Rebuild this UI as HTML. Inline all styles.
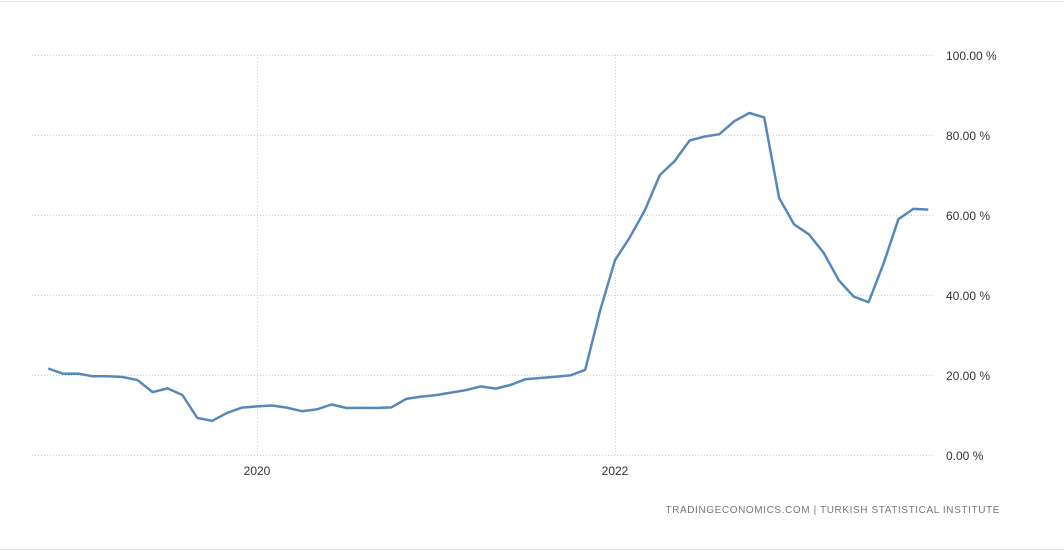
<!DOCTYPE html>
<html><head><meta charset="utf-8"><style>
html,body{margin:0;padding:0;background:#fff;}
body{width:1064px;height:552px;overflow:hidden;font-family:"Liberation Sans",sans-serif;}
</style></head><body>
<svg id="c" width="1064" height="552" xmlns="http://www.w3.org/2000/svg">
<line x1="0" y1="1.5" x2="1064" y2="1.5" stroke="#e6e6e6"/>
<line x1="0" y1="549.5" x2="1064" y2="549.5" stroke="#e6e6e6"/>
<g stroke="#d0d0d0" stroke-dasharray="1,2" stroke-width="1">
<line x1="32" y1="55.5" x2="935" y2="55.5"/>
<line x1="32" y1="135.5" x2="935" y2="135.5"/>
<line x1="32" y1="215.5" x2="935" y2="215.5"/>
<line x1="32" y1="295.5" x2="935" y2="295.5"/>
<line x1="32" y1="375.5" x2="935" y2="375.5"/>
<line x1="32" y1="455.5" x2="935" y2="455.5"/>
<line x1="257.5" y1="55" x2="257.5" y2="455"/>
<line x1="615.5" y1="55" x2="615.5" y2="455"/>
</g>
<g font-size="12" fill="#333">
<text x="946" y="60">100.00 %</text>
<text x="946" y="140">80.00 %</text>
<text x="946" y="220">60.00 %</text>
<text x="946" y="300">40.00 %</text>
<text x="946" y="380">20.00 %</text>
<text x="946" y="460">0.00 %</text>
<text x="257" y="475" text-anchor="middle">2020</text>
<text x="615" y="475" text-anchor="middle">2022</text>
</g>
<text x="1000" y="513" text-anchor="end" font-size="10" fill="#777" letter-spacing="0.6">TRADINGECONOMICS.COM  |  TURKISH STATISTICAL INSTITUTE</text>
<polyline id="p" fill="none" stroke="#5689b9" stroke-width="2.5" stroke-linejoin="round"/>
</svg>
<script>
var d=[21.62,20.30,20.35,19.67,19.71,19.50,18.71,15.72,16.65,15.01,9.26,8.55,10.56,11.84,12.15,12.37,11.86,10.94,11.39,12.62,11.76,11.77,11.75,11.89,14.03,14.60,14.97,15.61,16.19,17.14,16.59,17.53,18.95,19.25,19.58,19.89,21.31,36.08,48.69,54.44,61.14,69.97,73.50,78.62,79.60,80.21,83.45,85.51,84.39,64.27,57.68,55.18,50.51,43.68,39.59,38.21,47.83,58.94,61.53,61.36];
var s=358/24,pts=[];
for(var i=0;i<d.length;i++){pts.push((257-14*s+i*s).toFixed(1)+","+(455-d[i]*4).toFixed(1));}
document.getElementById('p').setAttribute('points',pts.join(' '));
</script>
</body></html>
